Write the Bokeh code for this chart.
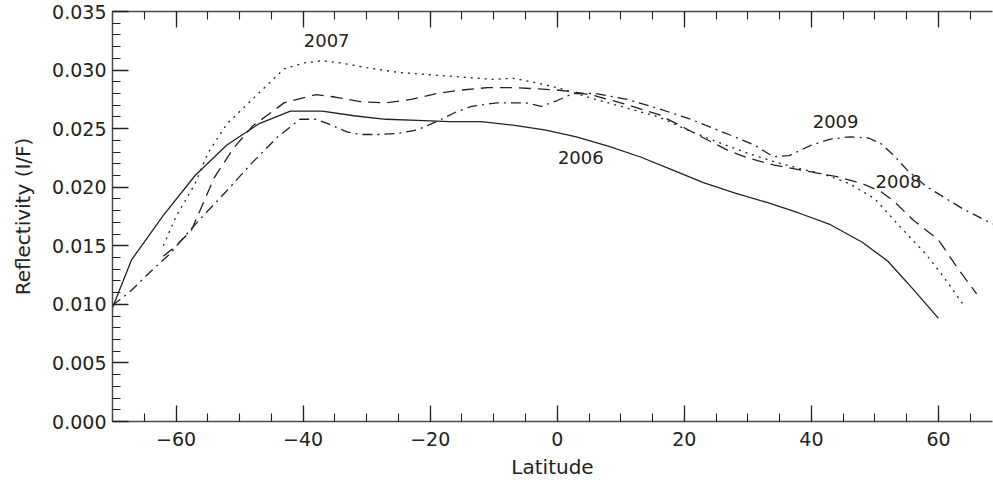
from bokeh.plotting import figure
from bokeh.models import Range1d, FixedTicker, LinearAxis
from bokeh.core.properties import value
from bokeh.embed import file_html
from bokeh.resources import INLINE

lat_2006 = [-70, -67, -62, -57, -52, -47, -42, -37, -32, -27, -22, -17, -12, -7, -2, 3, 8, 13, 18, 23, 28, 33, 38, 43, 48, 52, 56, 60]
refl_2006 = [0.0097, 0.0138, 0.0176, 0.0210, 0.0236, 0.0254, 0.0265, 0.0265, 0.0261, 0.0258, 0.0257, 0.0256, 0.0256, 0.0253,
             0.0249, 0.0243, 0.0235, 0.0226, 0.0215, 0.0204, 0.0195, 0.0187, 0.0178, 0.0168, 0.0153, 0.0137, 0.0113, 0.0088]

lat_2007 = [-62, -60, -57, -55, -52, -48, -43, -40, -37, -34, -30, -25, -20, -15, -10, -7, -4, 0, 3, 6, 10, 16, 20, 25, 30,
            34, 38, 42, 46, 50, 54, 58, 61, 64]
refl_2007 = [0.0150, 0.0175, 0.0203, 0.0229, 0.0254, 0.0275, 0.0301, 0.0306, 0.0308, 0.0306, 0.0302, 0.0298, 0.0296, 0.0294,
             0.0292, 0.0293, 0.0290, 0.0285, 0.0280, 0.0275, 0.0269, 0.0260, 0.0250, 0.0239, 0.0229, 0.0222, 0.0216, 0.0211,
             0.0203, 0.0190, 0.0166, 0.0143, 0.0122, 0.0099]

lat_2008 = [-62, -60, -57.6, -54, -51, -48, -43, -38, -35, -31, -27, -23, -19, -15, -11, -7, -3, 0, 3, 6, 10, 16, 22, 27,
            30, 34, 40, 44, 48, 51, 53, 56, 60, 63, 66]
refl_2008 = [0.0141, 0.0150, 0.0163, 0.0208, 0.0233, 0.0252, 0.0272, 0.0279, 0.0277, 0.0273, 0.0272, 0.0275, 0.0280, 0.0283,
             0.0285, 0.0285, 0.0284, 0.0283, 0.0281, 0.0278, 0.0272, 0.0262, 0.0245, 0.0231, 0.0225, 0.0219, 0.0213, 0.0209,
             0.0203, 0.0196, 0.0188, 0.0172, 0.0155, 0.0131, 0.0109]

lat_2009 = [-70, -67, -64, -61, -58, -56, -52, -48, -44, -40.5, -38, -36, -33, -31, -28, -25, -22, -19, -16, -13.5, -9.5,
            -5, -2.5, 0, 2.5, 6, 11, 16, 21, 27, 31, 34, 36.5, 40, 43, 46, 49, 51, 53, 55, 58, 61, 64, 68, 70]
refl_2009 = [0.0099, 0.0112, 0.0128, 0.0143, 0.0162, 0.0174, 0.0197, 0.0221, 0.0243, 0.0258, 0.0258, 0.0254, 0.0247, 0.0245,
             0.0245, 0.0246, 0.0249, 0.0256, 0.0264, 0.0269, 0.0272, 0.0272, 0.0269, 0.0274, 0.0280, 0.0280, 0.0275, 0.0267,
             0.0258, 0.0245, 0.0236, 0.0226, 0.0227, 0.0236, 0.0241, 0.0243, 0.0242, 0.0237, 0.0227, 0.0215, 0.0201, 0.0191,
             0.0181, 0.0170, 0.0165]

label_text = ["2007", "2006", "2009", "2008"]
label_lat = [-39.9, 0.1, 40.2, 50.1]
label_refl = [0.03254, 0.02254, 0.02557, 0.02053]

x_ticks = [-60, -40, -20, 0, 20, 40, 60]
x_tick_labels = ["\u221260", "\u221240", "\u221220", "0", "20", "40", "60"]
x_minor = list(range(-70, 75, 5))
y_ticks = [0.0, 0.005, 0.010, 0.015, 0.020, 0.025, 0.030, 0.035]
y_tick_labels = ["0.000", "0.005", "0.010", "0.015", "0.020", "0.025", "0.030", "0.035"]
y_minor = [i / 1000 for i in range(0, 36)]

FONT = "DejaVu Sans"
INK = "#222222"
AXC = "#4a4a4a"

p = figure(width=993, height=483, output_backend="svg", toolbar_location=None,
           x_range=Range1d(-70, 68.5), y_range=Range1d(0.0, 0.035),
           min_border_left=112, min_border_right=1, min_border_top=11, min_border_bottom=62)
p.outline_line_color = None
p.grid.visible = False
p.background_fill_color = "white"
p.border_fill_color = "white"

def style_axis(ax):
    ax.axis_line_color = AXC
    ax.axis_line_width = 1.5
    ax.major_tick_line_color = INK
    ax.minor_tick_line_color = INK
    ax.major_tick_line_width = 1.3
    ax.minor_tick_line_width = 1.1
    ax.major_tick_in = 16
    ax.major_tick_out = 0
    ax.minor_tick_in = 8
    ax.minor_tick_out = 0
    ax.major_label_text_font = FONT
    ax.major_label_text_font_size = "19px"
    ax.major_label_text_color = INK
    ax.axis_label_text_font = FONT
    ax.axis_label_text_font_size = "20px"
    ax.axis_label_text_font_style = "normal"
    ax.axis_label_text_color = INK

xax = p.xaxis[0]
xax.ticker = FixedTicker(ticks=x_ticks, minor_ticks=x_minor)
xax.major_label_overrides = {t: s for t, s in zip(x_ticks, x_tick_labels)}
style_axis(xax)
xax.axis_label = "Latitude"
xax.major_label_standoff = 10
xax.axis_label_standoff = 6

yax = p.yaxis[0]
yax.ticker = FixedTicker(ticks=y_ticks, minor_ticks=y_minor)
yax.major_label_overrides = {t: s for t, s in zip(y_ticks, y_tick_labels)}
style_axis(yax)
yax.axis_label = "Reflectivity (I/F)"
yax.major_label_standoff = 6
yax.axis_label_standoff = 14

top = LinearAxis(ticker=FixedTicker(ticks=x_ticks, minor_ticks=x_minor))
style_axis(top)
top.major_label_overrides = {t: "" for t in x_ticks}
top.major_label_text_font_size = "1px"
top.major_label_standoff = 0
p.add_layout(top, "above")

lw = 1.3
p.line(lat_2006, refl_2006, line_color=INK, line_width=lw)
p.line(lat_2007, refl_2007, line_color=INK, line_width=lw, line_dash="2 5")
p.line(lat_2008, refl_2008, line_color=INK, line_width=lw, line_dash="12 7")
p.line(lat_2009, refl_2009, line_color=INK, line_width=lw, line_dash="10 5 2 5")

p.text(x=label_lat, y=label_refl, text=label_text, text_font=value(FONT), text_font_size="18px",
       text_color=INK, text_align="left", text_baseline="middle")

open("out.html", "w").write(file_html(p, INLINE))
